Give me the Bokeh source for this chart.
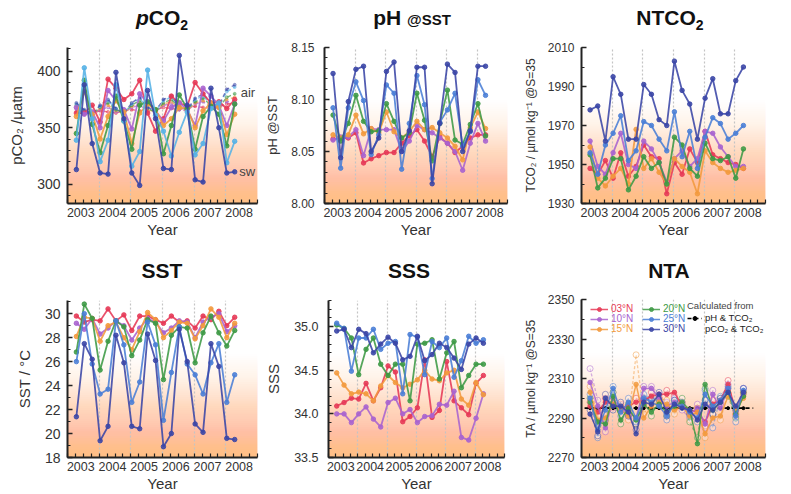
from bokeh.plotting import figure
from bokeh.layouts import column, row
from bokeh.models import (Range1d, FixedTicker, CustomJSTickFormatter, Label, Div,
                          Legend, LegendItem, NumeralTickFormatter)
from bokeh.embed import file_html
from bokeh.resources import INLINE

# ---------------- data ----------------
times = [2003.28, 2003.53, 2003.78, 2004.03, 2004.28, 2004.53, 2004.78, 2005.03,
         2005.28, 2005.53, 2005.78, 2006.03, 2006.28, 2006.53, 2006.78, 2007.03,
         2007.28, 2007.53, 2007.78, 2008.03, 2008.28]
lats = ["03°N", "10°N", "15°N", "20°N", "25°N", "30°N"]
year_labels = ["2003", "2004", "2005", "2006", "2007", "2008"]
year_label_pos = [2003.42, 2004.42, 2005.42, 2006.42, 2007.42, 2008.42]
year_bounds = [2004, 2005, 2006, 2007, 2008, 2009]
quarter_ticks = [2003.0, 2003.25, 2003.5, 2003.75, 2004.0, 2004.25, 2004.5, 2004.75,
                 2005.0, 2005.25, 2005.5, 2005.75, 2006.0, 2006.25, 2006.5, 2006.75,
                 2007.0, 2007.25, 2007.5, 2007.75, 2008.0, 2008.25, 2008.5, 2008.75, 2009.0]

pco2_03 = [363, 363, 370, 355, 393, 385, 375, 380, 392, 363, 347, 358, 378, 372, 369, 390, 380, 372, 373, 367, 375]
pco2_10 = [368, 362, 364, 350, 383, 374, 366, 349, 380, 372, 365, 356, 368, 372, 366, 352, 385, 378, 370, 352, 371]
pco2_15 = [360, 382, 362, 340, 360, 374, 364, 336, 363, 371, 366, 352, 358, 368, 367, 350, 365, 372, 368, 344, 362]
pco2_20 = [345, 392, 353, 328, 352, 378, 356, 331, 370, 373, 366, 327, 352, 379, 367, 331, 360, 369, 362, 334, 371]
pco2_25 = [339, 403, 358, 320, 339, 388, 356, 316, 329, 401, 361, 347, 325, 346, 364, 326, 336, 367, 372, 319, 338]
pco2_30 = [313, 388, 336, 310, 309, 399, 358, 310, 299, 383, 358, 314, 313, 414, 370, 304, 302, 385, 350, 310, 311]

air_03 = [364, 362, 363, 365, 364, 363, 365, 366, 365, 364, 366, 368, 367, 366, 368, 369, 368, 367, 369, 371, 372]
air_10 = [366, 363, 362, 366, 368, 364, 363, 368, 370, 365, 364, 370, 371, 366, 365, 371, 373, 368, 367, 373, 374]
air_15 = [368, 364, 362, 367, 370, 365, 363, 369, 372, 366, 364, 371, 373, 367, 365, 372, 374, 369, 368, 375, 377]
air_20 = [370, 365, 362, 368, 372, 366, 363, 370, 374, 367, 364, 372, 375, 368, 366, 373, 376, 370, 368, 377, 380]
air_25 = [371, 365, 362, 369, 374, 367, 363, 371, 376, 368, 365, 374, 377, 369, 366, 375, 378, 371, 369, 382, 386]
air_30 = [372, 366, 362, 370, 375, 367, 363, 372, 377, 368, 365, 375, 378, 369, 366, 376, 380, 372, 370, 384, 388]

ph_03 = [8.062, 8.063, 8.063, 8.068, 8.039, 8.043, 8.046, 8.049, 8.049, 8.058, 8.065, 8.071, 8.060, 8.045, 8.064, 8.058, 8.049, 8.055, 8.063, 8.066, 8.066]
ph_10 = [8.061, 8.064, 8.064, 8.071, 8.046, 8.072, 8.071, 8.071, 8.071, 8.050, 8.060, 8.075, 8.071, 8.068, 8.063, 8.058, 8.050, 8.032, 8.058, 8.077, 8.060]
ph_15 = [8.066, 8.063, 8.066, 8.085, 8.067, 8.072, 8.068, 8.088, 8.069, 8.063, 8.069, 8.079, 8.071, 8.073, 8.068, 8.063, 8.055, 8.042, 8.073, 8.088, 8.072]
ph_20 = [8.085, 8.060, 8.077, 8.104, 8.079, 8.069, 8.070, 8.096, 8.079, 8.063, 8.068, 8.106, 8.080, 8.041, 8.077, 8.109, 8.061, 8.057, 8.076, 8.096, 8.065]
ph_25 = [8.092, 8.034, 8.092, 8.117, 8.099, 8.047, 8.066, 8.114, 8.106, 8.033, 8.077, 8.123, 8.095, 8.024, 8.078, 8.090, 8.106, 8.055, 8.069, 8.119, 8.104]
ph_30 = [8.125, 8.044, 8.098, 8.129, 8.132, 8.050, 8.063, 8.127, 8.136, 8.050, 8.070, 8.131, 8.131, 8.019, 8.077, 8.134, 8.126, 8.050, 8.070, 8.132, 8.132]

tco2_03 = [1948, 1945, 1952, 1943, 1956, 1944, 1949, 1960, 1954, 1953, 1935, 1951, 1945, 1958, 1951, 1967, 1955, 1953, 1951, 1950, 1948]
tco2_10 = [1962, 1949, 1945, 1956, 1966, 1950, 1948, 1962, 1958, 1951, 1941, 1953, 1957, 1949, 1953, 1967, 1966, 1959, 1954, 1949, 1949]
tco2_15 = [1959, 1943, 1939, 1944, 1948, 1940, 1968, 1948, 1953, 1946, 1940, 1953, 1949, 1946, 1935, 1957, 1951, 1948, 1946, 1947, 1948]
tco2_20 = [1955, 1938, 1943, 1953, 1953, 1937, 1944, 1954, 1948, 1951, 1940, 1964, 1960, 1948, 1944, 1961, 1953, 1952, 1954, 1943, 1958]
tco2_25 = [1956, 1945, 1960, 1966, 1975, 1952, 1957, 1972, 1970, 1963, 1957, 1977, 1954, 1967, 1948, 1964, 1974, 1971, 1963, 1966, 1970]
tco2_30 = [1978, 1980, 1962, 1995, 1986, 1963, 1963, 1991, 1986, 1973, 1970, 2003, 1988, 1981, 1963, 1984, 1994, 1976, 1976, 1993, 2000]

sst_03 = [29.8, 29.3, 29.5, 29.4, 30.4, 29.4, 29.9, 28.6, 29.8, 29.8, 29.5, 29.2, 29.8, 29.3, 29.4, 28.8, 29.8, 29.5, 30.2, 29.0, 29.7]
sst_10 = [29.2, 28.7, 29.6, 28.3, 28.8, 29.4, 29.0, 27.8, 28.8, 29.6, 29.3, 28.4, 28.8, 29.4, 29.3, 28.0, 29.3, 29.7, 30.0, 28.5, 29.0]
sst_15 = [28.1, 29.7, 29.6, 27.7, 29.0, 29.3, 28.0, 27.0, 28.5, 30.1, 29.5, 28.0, 28.6, 29.3, 29.2, 27.9, 29.0, 30.4, 29.7, 28.0, 29.2]
sst_20 = [26.8, 30.8, 29.6, 25.3, 27.7, 29.4, 28.9, 26.5, 27.8, 29.5, 29.2, 24.5, 28.2, 28.9, 28.8, 25.9, 28.4, 29.8, 28.4, 27.3, 28.6]
sst_25 = [26.0, 30.0, 25.8, 23.3, 23.7, 29.4, 27.4, 22.6, 24.3, 29.3, 27.4, 21.1, 25.1, 28.9, 25.8, 24.9, 23.3, 25.9, 27.5, 22.6, 24.9]
sst_30 = [21.4, 27.5, 26.2, 19.4, 20.6, 28.2, 25.9, 20.6, 20.4, 28.3, 26.1, 18.9, 20.0, 28.7, 26.0, 20.8, 20.1, 27.5, 25.6, 19.6, 19.5]

sss_03 = [34.09, 34.13, 34.18, 34.17, 34.35, 34.15, 34.30, 34.55, 34.48, 33.91, 33.97, 34.07, 34.62, 33.96, 34.04, 34.60, 34.15, 34.07, 33.99, 34.35, 34.44]
sss_10 = [34.00, 34.00, 33.90, 34.00, 34.08, 33.94, 33.85, 34.13, 34.18, 34.00, 34.05, 33.90, 33.97, 33.98, 34.11, 34.10, 34.26, 33.73, 33.70, 33.95, 34.23]
sss_15 = [34.47, 34.33, 34.23, 34.25, 34.23, 34.15, 34.32, 34.44, 34.36, 34.30, 34.34, 34.39, 34.50, 34.40, 34.38, 34.47, 34.50, 34.17, 34.10, 34.36, 34.22]
sss_20 = [35.02, 34.98, 34.87, 34.45, 34.74, 34.87, 34.57, 34.44, 34.57, 34.57, 34.15, 34.80, 34.81, 34.85, 34.40, 34.70, 34.83, 34.30, 34.44, 34.57, 34.57]
sss_25 = [35.04, 34.98, 34.49, 34.87, 34.87, 34.97, 34.74, 34.81, 34.83, 34.23, 34.91, 34.88, 34.45, 34.83, 34.76, 34.87, 34.42, 34.61, 34.89, 34.81, 34.85]
sss_30 = [34.95, 34.97, 34.76, 34.97, 34.92, 34.70, 34.80, 34.88, 34.81, 34.62, 34.66, 34.89, 34.61, 34.68, 34.81, 34.76, 34.64, 34.51, 34.80, 34.87, 34.81]

# NTA calculated from pH & TCO2 (solid) and from pCO2 & TCO2 (dashed)
ta_03 = [2296, 2293, 2298, 2297, 2295, 2296, 2298, 2299, 2301, 2302, 2302, 2303, 2296, 2294, 2293, 2288, 2297, 2299, 2307, 2294, 2301]
ta_10 = [2308, 2296, 2285, 2300, 2294, 2293, 2290, 2305, 2305, 2300, 2296, 2298, 2296, 2292, 2295, 2287, 2302, 2295, 2305, 2293, 2302]
ta_15 = [2303, 2289, 2290, 2297, 2294, 2291, 2307, 2290, 2296, 2298, 2297, 2294, 2296, 2291, 2293, 2282, 2290, 2291, 2301, 2294, 2300]
ta_20 = [2298, 2288, 2287, 2301, 2289, 2295, 2289, 2297, 2293, 2297, 2293, 2296, 2298, 2294, 2277, 2307, 2294, 2298, 2303, 2292, 2301]
ta_25 = [2300, 2284, 2294, 2305, 2293, 2298, 2290, 2300, 2298, 2296, 2291, 2297, 2296, 2293, 2290, 2302, 2296, 2299, 2305, 2291, 2304]
ta_30 = [2292, 2283, 2300, 2296, 2296, 2293, 2282, 2298, 2297, 2302, 2293, 2297, 2295, 2294, 2289, 2297, 2294, 2298, 2303, 2296, 2303]
ta2_03 = [2298, 2291, 2300, 2295, 2297, 2294, 2300, 2297, 2303, 2300, 2304, 2301, 2298, 2292, 2295, 2286, 2299, 2297, 2309, 2292, 2303]
ta2_10 = [2315, 2299, 2283, 2303, 2296, 2291, 2288, 2306, 2306, 2302, 2298, 2300, 2294, 2290, 2297, 2285, 2304, 2297, 2307, 2291, 2305]
ta2_15 = [2306, 2291, 2288, 2299, 2296, 2289, 2322, 2292, 2298, 2300, 2299, 2292, 2298, 2289, 2295, 2280, 2292, 2289, 2303, 2292, 2302]
ta2_20 = [2300, 2286, 2289, 2303, 2287, 2297, 2287, 2299, 2291, 2299, 2291, 2298, 2300, 2288, 2280, 2305, 2296, 2300, 2301, 2290, 2303]
ta2_25 = [2302, 2280, 2296, 2306, 2291, 2300, 2288, 2302, 2300, 2298, 2289, 2299, 2298, 2291, 2288, 2304, 2285, 2301, 2306, 2288, 2305]
ta2_30 = [2294, 2281, 2302, 2294, 2298, 2291, 2284, 2300, 2299, 2303, 2291, 2299, 2297, 2292, 2291, 2299, 2292, 2300, 2305, 2294, 2305]
ta_mean = 2295
ta_mean_span = [2003.1, 2008.6]

# ---------------- style ----------------
FONT = "Liberation Sans"
COLORS = ["#E63956", "#A863CF", "#F29A3E", "#3E9A45", "#4A7ED6", "#3A45A6"]
PCO2_COLORS = ["#E63956", "#A863CF", "#F29A3E", "#3E9A45", "#55B2E6", "#3A45A6"]
GRAD = "#F5A868"


def add_gradient(p, y0, y1, frac=0.66, n=48, amax=0.72):
    # stacked translucent quads whose composite opacity falls linearly with height
    target = [amax * (1 - (j + 0.5) / n) for j in range(n)] + [0.0]
    alphas = [1 - (1 - target[j]) / (1 - target[j + 1]) for j in range(n)]
    tops = [y0 + (y1 - y0) * frac * (j + 1) / n for j in range(n)]
    r = p.quad(left=[2003.0] * n, right=[2009.0] * n, bottom=[y0] * n, top=tops,
               fill_color=GRAD, fill_alpha=alphas, line_color=None)
    r.level = "image"


def base(ylabel, yr, ymajor, yminor, yfmt, w, h, bl, br, bt, bb,
         ylab_size="14px", ytick_size="13px", ytick_standoff=6, ylab_standoff=8):
    p = figure(width=w, height=h, x_range=Range1d(2003.0, 2009.0), y_range=Range1d(*yr),
               output_backend="svg", toolbar_location=None,
               min_border_left=bl, min_border_right=br, min_border_top=bt, min_border_bottom=bb)
    p.outline_line_color = None
    for ax in (p.xaxis[0], p.yaxis[0]):
        ax.axis_line_width = 2
        ax.axis_line_color = "#222222"
        ax.major_tick_line_color = "#222222"
        ax.minor_tick_line_color = "#222222"
        ax.major_tick_line_width = 1.5
        ax.minor_tick_line_width = 1.2
        ax.major_label_text_font = FONT
        ax.axis_label_text_font = FONT
        ax.axis_label_text_font_style = "normal"
        ax.major_label_text_color = "#333333"
        ax.axis_label_text_color = "#333333"
    xa = p.xaxis[0]
    xa.ticker = FixedTicker(ticks=year_label_pos, minor_ticks=quarter_ticks)
    xa.formatter = CustomJSTickFormatter(code="return String(Math.floor(tick));")
    xa.major_tick_in = 0
    xa.major_tick_out = 0
    xa.minor_tick_in = 4
    xa.minor_tick_out = 0
    xa.major_label_text_font_size = "12.5px"
    xa.major_label_standoff = 4
    xa.axis_label = "Year"
    xa.axis_label_text_font_size = "15px"
    xa.axis_label_standoff = 1
    ya = p.yaxis[0]
    ya.ticker = FixedTicker(ticks=ymajor, minor_ticks=yminor)
    if yfmt:
        ya.formatter = NumeralTickFormatter(format=yfmt)
    ya.major_tick_in = 5
    ya.major_tick_out = 0
    ya.minor_tick_in = 3
    ya.minor_tick_out = 0
    ya.major_label_text_font_size = ytick_size
    ya.major_label_standoff = ytick_standoff
    ya.axis_label = ylabel
    ya.axis_label_text_font_size = ylab_size
    ya.axis_label_standoff = ylab_standoff
    p.ygrid.visible = False
    p.xgrid.ticker = FixedTicker(ticks=year_bounds)
    p.xgrid.grid_line_color = "#c4c4c4"
    p.xgrid.grid_line_dash = "2 2"
    p.xgrid.grid_line_width = 1.2
    add_gradient(p, yr[0], yr[1])
    return p


def titled(p, html, bl, br, h, pad):
    d = Div(text=('<div style="font-family:\'Liberation Sans\';font-weight:bold;font-size:21px;'
                  'color:#111111;text-align:center;line-height:24px;white-space:nowrap;'
                  f'display:block;width:190px;padding-top:{pad}px">{html}</div>'),
            width=190, height=h, margin=(0, br, 0, bl),
            styles={"width": "190px", "text-align": "center"})
    return column(d, p, spacing=0)


def draw_series(p, series, colors, lw=1.8, size=4.5, alpha=0.88):
    rs = []
    for vals, c in zip(series, colors):
        l = p.line(times, vals, line_color=c, line_width=lw, line_alpha=alpha)
        s = p.scatter(times, vals, size=size, fill_color=c, line_color=c, alpha=alpha)
        rs.append((l, s))
    return rs


# widths / borders (page has no margin, whole 791x494 available)
W1, W2, W3 = 262, 258, 266
T1, T2 = 34, 44           # title strip heights
H1, H2 = 240 - T1, 254 - T2

# ---- pCO2 ----
p1 = base("pCO₂ /µatm", (283, 421), [300, 350, 400],
          [290, 300, 310, 320, 330, 340, 350, 360, 370, 380, 390, 400, 410, 420], None,
          W1, H1, 67, 5, 47 - T1, 37, ylab_size="15px", ytick_size="14px", ytick_standoff=7, ylab_standoff=9)
for vals, c in zip([air_03, air_10, air_15, air_20, air_25, air_30], PCO2_COLORS):
    p1.line(times, vals, line_color=c, line_width=1.4, line_dash="4 3", line_alpha=0.7)
    p1.scatter(times, vals, size=3, fill_color=c, line_color=c, alpha=0.45)
draw_series(p1, [pco2_03, pco2_10, pco2_15, pco2_20, pco2_25, pco2_30], PCO2_COLORS)
p1.add_layout(Label(x=2008.47, y=381, text="air", text_font=FONT, text_font_size="13px",
                    text_color="#444444", text_baseline="middle"))
p1.add_layout(Label(x=2008.42, y=311, text="sw", text_font=FONT, text_font_size="13px",
                    text_color="#444444", text_baseline="middle"))

# ---- pH ----
p2 = base("pH @SST", (8.0, 8.15), [8.0, 8.05, 8.10, 8.15],
          [8.00, 8.01, 8.02, 8.03, 8.04, 8.05, 8.06, 8.07, 8.08, 8.09, 8.10, 8.11, 8.12, 8.13, 8.14, 8.15],
          "0.00", W2, H1, 55, 13, 47 - T1, 35, ylab_size="13px", ytick_size="12px", ytick_standoff=10, ylab_standoff=8)
draw_series(p2, [ph_03, ph_10, ph_15, ph_20, ph_25, ph_30], COLORS)

# ---- NTCO2 ----
p3 = base("TCO₂ / µmol kg⁻¹ @S=35", (1930, 2010), [1930, 1950, 1970, 1990, 2010],
          [1930, 1940, 1950, 1960, 1970, 1980, 1990, 2000, 2010], None,
          W3, H1, 55, 21, 47 - T1, 36, ylab_size="12px", ytick_size="12px", ytick_standoff=7, ylab_standoff=7)
draw_series(p3, [tco2_03, tco2_10, tco2_15, tco2_20, tco2_25, tco2_30], COLORS)

# ---- SST ----
p4 = base("SST / °C", (18, 31.1), [18, 20, 22, 24, 26, 28, 30],
          [18, 19, 20, 21, 22, 23, 24, 25, 26, 27, 28, 29, 30, 31], None,
          W1, H2, 67, 5, 60 - T2, 34, ylab_size="15px", ytick_size="14px", ytick_standoff=7, ylab_standoff=9)
draw_series(p4, [sst_03, sst_10, sst_15, sst_20, sst_25, sst_30], COLORS)

# ---- SSS ----
p5 = base("SSS", (33.5, 35.3), [33.5, 34.0, 34.5, 35.0],
          [33.5, 33.6, 33.7, 33.8, 33.9, 34.0, 34.1, 34.2, 34.3, 34.4, 34.5, 34.6, 34.7, 34.8, 34.9, 35.0, 35.1, 35.2, 35.3],
          "0.0", W2, H2, 52, 16, 60 - T2, 35, ylab_size="15px", ytick_size="12.5px", ytick_standoff=10, ylab_standoff=9)
draw_series(p5, [sss_03, sss_10, sss_15, sss_20, sss_25, sss_30], COLORS)

# ---- NTA ----
p6 = base("TA / µmol kg⁻¹ @S=35", (2270, 2350), [2270, 2290, 2310, 2330, 2350],
          [2270, 2280, 2290, 2300, 2310, 2320, 2330, 2340, 2350], None,
          W3, H2, 54, 21, 59 - T2, 36, ylab_size="12px", ytick_size="12px", ytick_standoff=7, ylab_standoff=7)
for vals, c in zip([ta2_03, ta2_10, ta2_15, ta2_20, ta2_25, ta2_30], COLORS):
    p6.line(times, vals, line_color=c, line_width=1.3, line_dash="3 2", line_alpha=0.5)
    p6.scatter(times, vals, size=6, fill_color="white", fill_alpha=0.3, line_color=c, line_alpha=0.5)
mean_line = p6.line(ta_mean_span, [ta_mean, ta_mean], line_color="black", line_width=1.6, line_dash="4 3")
mean_pts = p6.scatter(times, [ta_mean] * len(times), size=3, fill_color="black", line_color="black")
ta_rs = draw_series(p6, [ta_03, ta_10, ta_15, ta_20, ta_25, ta_30], COLORS, lw=1.5, size=4.5, alpha=0.85)
alt_line = p6.line([], [], line_color="#888888", line_width=1.3, line_dash="3 2")
alt_pts = p6.scatter([], [], size=6, fill_color="white", line_color="#888888")

LEG = dict(background_fill_alpha=0, border_line_alpha=0, padding=0, margin=0, spacing=0,
           glyph_height=10, label_height=10, label_standoff=3, label_text_font=FONT,
           label_text_line_height=1.0)

col_x = [9, 9, 9, 61, 61, 61]
row_y = [143, 133, 123, 143, 133, 123]
for i, lat in enumerate(lats):
    p6.add_layout(Legend(items=[LegendItem(label=lat, renderers=list(ta_rs[i]))],
                         location=(col_x[i], row_y[i]), glyph_width=18,
                         label_text_font_size="10px", label_text_color=COLORS[i], **LEG))
p6.add_layout(Legend(items=[LegendItem(label="pH & TCO₂", renderers=[mean_line, mean_pts]),
                            LegendItem(label="pCO₂ & TCO₂", renderers=[alt_line, alt_pts])],
                     location=(106, 123), glyph_width=15, label_text_font_size="9.5px",
                     label_text_color="#222222", title="Calculated from",
                     title_text_font_size="9.5px", title_text_font=FONT,
                     title_text_font_style="normal", title_text_color="#444444",
                     title_standoff=1, **LEG))

c1 = titled(p1, "<i>p</i>CO<sub style='font-size:14px'>2</sub>", 67, 5, T1, 6)
c2 = titled(p2, "pH <span style='font-size:15px'>@SST</span>", 55, 13, T1, 6)
c3 = titled(p3, "NTCO<sub style='font-size:14px'>2</sub>", 55, 21, T1, 6)
c4 = titled(p4, "SST", 67, 5, T2, 19)
c5 = titled(p5, "SSS", 52, 16, T2, 19)
c6 = titled(p6, "NTA", 54, 21, T2, 19)

layout = column(row(c1, c2, c3, spacing=0), row(c4, c5, c6, spacing=0), spacing=0)
open("out.html", "w").write(file_html(layout, INLINE))
